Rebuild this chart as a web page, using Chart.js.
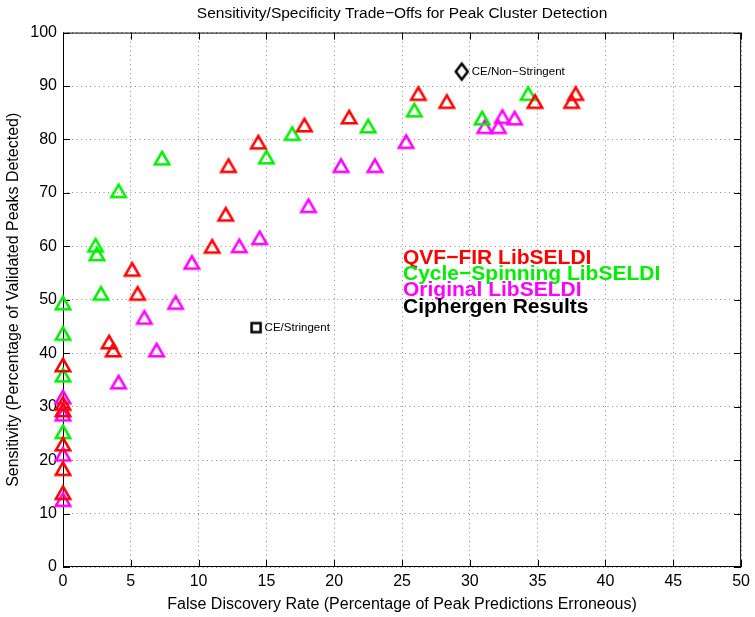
<!DOCTYPE html>
<html>
<head>
<meta charset="utf-8">
<script src="https://cdn.jsdelivr.net/npm/chart.js@4"></script>
<style>
  html, body { margin: 0; padding: 0; background: #fff; }
  #wrap { width: 755px; height: 617px; }
</style>
</head>
<body>
<div id="wrap"><canvas id="c" width="755" height="617"></canvas></div>
<script>
// ---- data ----
const qvfX = [0, 0, 0, 0, 0, 0, 3.4, 3.7, 5.1, 5.5, 11.0, 12.0, 12.2, 14.4, 17.8, 21.1, 26.2, 28.3, 34.8, 37.5, 37.8];
const qvfY = [13.9, 18.4, 23.0, 29.4, 30.6, 37.8, 42.1, 40.6, 55.7, 51.2, 60.0, 66.0, 75.1, 79.5, 82.7, 84.2, 88.6, 87.1, 87.1, 87.1, 88.6];

const cycX = [0, 0, 0, 0, 2.4, 2.5, 2.8, 4.1, 7.3, 15.0, 16.9, 22.5, 25.9, 30.9, 34.3];
const cycY = [25.3, 35.9, 43.7, 49.4, 60.2, 58.6, 51.2, 70.4, 76.5, 76.7, 81.1, 82.5, 85.5, 84.0, 88.6];

const origX = [0, 0, 0, 0, 4.1, 6.0, 6.9, 8.3, 9.5, 13.0, 14.5, 18.1, 20.5, 23.0, 25.3, 31.1, 32.1, 32.4, 33.3];
const origY = [12.6, 21.1, 28.6, 31.8, 34.6, 46.7, 40.6, 49.5, 57.0, 60.1, 61.6, 67.6, 75.1, 75.1, 79.6, 82.4, 82.4, 84.3, 84.0];

const cipherLabels = ["CE/Stringent", "CE/Non\u2212Stringent"];
const cipherX = [14.24, 29.4];
const cipherY = [44.8, 92.7];
const cipherStyles = ["square", "diamond"];

const legendLabels = ["QVF\u2212FIR LibSELDI", "Cycle\u2212Spinning LibSELDI", "Original LibSELDI", "Ciphergen Results"];
const legendColors = ["#ff0000", "#00ee00", "#ff00ff", "#000000"];

const xTicks = [0, 5, 10, 15, 20, 25, 30, 35, 40, 45, 50];
const yTicks = [0, 10, 20, 30, 40, 50, 60, 70, 80, 90, 100];

const titleText = "Sensitivity/Specificity Trade\u2212Offs for Peak Cluster Detection";
const xTitle = "False Discovery Rate (Percentage of Peak Predictions Erroneous)";
const yTitle = "Sensitivity (Percentage of Validated Peaks Detected)";

// ---- build ----
const pts = (xs, ys) => xs.map((x, i) => ({ x: x, y: ys[i] }));
const FONT = "'Liberation Sans', Arial, Helvetica, sans-serif";

// marker images, centred on their bounding box (MATLAB style)
function makeMarker(kind, color) {
  const cv = document.createElement('canvas');
  cv.width = 22; cv.height = 22;
  const c = cv.getContext('2d');
  c.strokeStyle = color;
  c.lineWidth = 2.5;
  c.lineJoin = 'miter';
  c.beginPath();
  if (kind === 'triangle') {
    const w = 14.5, h = 12.5;
    c.moveTo(11, 11 - h / 2);
    c.lineTo(11 + w / 2, 11 + h / 2);
    c.lineTo(11 - w / 2, 11 + h / 2);
    c.closePath();
  } else if (kind === 'square') {
    c.rect(6.5, 6.5, 9, 9);
  } else if (kind === 'diamond') {
    const w = 12, h = 16;
    c.moveTo(11, 11 - h / 2);
    c.lineTo(11 + w / 2, 11);
    c.lineTo(11, 11 + h / 2);
    c.lineTo(11 - w / 2, 11);
    c.closePath();
  }
  c.stroke();
  return cv;
}

function triSet(label, xs, ys, color) {
  return {
    label: label, data: pts(xs, ys),
    pointStyle: makeMarker('triangle', color), pointRadius: 10, pointHoverRadius: 10,
    borderColor: color, backgroundColor: 'rgba(0,0,0,0)', borderWidth: 0,
    clip: false
  };
}

const framePlugin = {
  id: 'frame',
  beforeDatasetsDraw(chart) {
    const { ctx, chartArea: a, scales } = chart;
    ctx.save();
    ctx.strokeStyle = '#000';
    ctx.lineWidth = 1;
    ctx.setLineDash([]);
    ctx.strokeRect(a.left + 0.5, a.top + 0.5, a.right - a.left - 1, a.bottom - a.top - 1);
    const tl = 7;
    ctx.beginPath();
    xTicks.forEach(v => {
      const px = Math.round(scales.x.getPixelForValue(v)) + 0.5;
      ctx.moveTo(px, a.bottom); ctx.lineTo(px, a.bottom - tl);
      ctx.moveTo(px, a.top); ctx.lineTo(px, a.top + tl);
    });
    yTicks.forEach(v => {
      const py = Math.round(scales.y.getPixelForValue(v)) + 0.5;
      ctx.moveTo(a.left, py); ctx.lineTo(a.left + tl, py);
      ctx.moveTo(a.right, py); ctx.lineTo(a.right - tl, py);
    });
    ctx.stroke();
    ctx.restore();
  },
  afterDatasetsDraw(chart) {
    const { ctx, scales } = chart;
    ctx.save();
    // marker labels
    ctx.fillStyle = '#000';
    ctx.font = "11.5px " + FONT;
    ctx.textBaseline = 'middle';
    ctx.textAlign = 'left';
    const labelOffsets = [8.5, 10];
    cipherLabels.forEach((t, i) => {
      const px = scales.x.getPixelForValue(cipherX[i]);
      const py = scales.y.getPixelForValue(cipherY[i]);
      ctx.fillText(t, px + labelOffsets[i], py + 0.5);
    });
    // legend text
    ctx.font = "bold 21px " + FONT;
    ctx.textBaseline = 'alphabetic';
    const baselines = [264, 280, 296, 312.5];
    legendLabels.forEach((t, i) => {
      ctx.fillStyle = legendColors[i];
      ctx.fillText(t, 403, baselines[i]);
    });
    ctx.restore();
  }
};

new Chart(document.getElementById('c'), {
  type: 'scatter',
  data: {
    datasets: [
      triSet(legendLabels[0], qvfX, qvfY, '#ff0000'),
      triSet(legendLabels[1], cycX, cycY, '#00ee00'),
      triSet(legendLabels[2], origX, origY, '#ff00ff'),
      {
        label: legendLabels[3], data: pts(cipherX, cipherY),
        pointStyle: cipherStyles.map(s => makeMarker(s, '#000')), pointRadius: 10, pointHoverRadius: 10,
        borderColor: '#000', backgroundColor: 'rgba(0,0,0,0)', borderWidth: 0,
        clip: false
      }
    ]
  },
  options: {
    responsive: false,
    animation: false,
    events: [],
    layout: { padding: { left: 0, right: 13, top: 0, bottom: 0 } },
    plugins: {
      legend: { display: false },
      tooltip: { enabled: false },
      title: {
        display: true, text: titleText, color: '#000', fullSize: false,
        font: { family: FONT, size: 15.5, weight: 'normal' },
        padding: { top: 4, bottom: 10 }
      }
    },
    scales: {
      x: {
        type: 'linear', min: 0, max: 50,
        afterBuildTicks(s) { s.ticks = xTicks.map(v => ({ value: v })); },
        afterFit(s) { s.height = 50; },
        ticks: { color: '#000', padding: 5, font: { family: FONT, size: 16 }, maxRotation: 0 },
        grid: { color: '#8c8c8c', lineWidth: 1, drawTicks: false },
        border: { display: false, dash: [1, 3.5] },
        title: { display: true, text: xTitle, color: '#000', font: { family: FONT, size: 16 }, padding: { top: 0, bottom: 3 } }
      },
      y: {
        type: 'linear', min: 0, max: 100,
        afterBuildTicks(s) { s.ticks = yTicks.map(v => ({ value: v })); },
        afterFit(s) { s.width = 63; },
        ticks: { color: '#000', padding: 6, font: { family: FONT, size: 16 } },
        grid: { color: '#8c8c8c', lineWidth: 1, drawTicks: false },
        border: { display: false, dash: [1, 3.5] },
        title: { display: true, text: yTitle, color: '#000', font: { family: FONT, size: 16 }, padding: { top: 4, bottom: 4 } }
      }
    }
  },
  plugins: [framePlugin]
});
</script>
</body>
</html>
